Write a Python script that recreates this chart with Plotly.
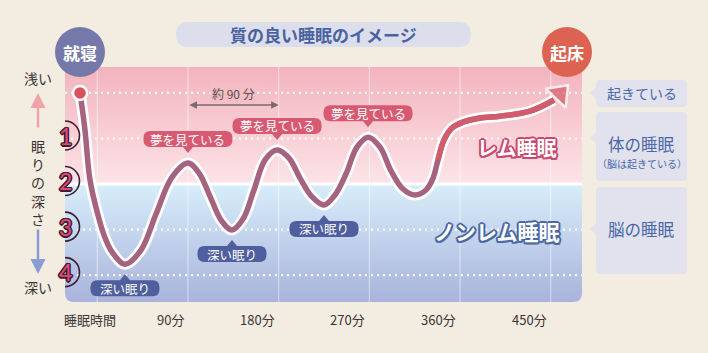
import plotly.graph_objects as go

# ---------------- data ----------------
sleep_t = [-17.1, -12.2, -7.2, 0.7, 6.7, 14.6, 27.5, 43.4, 58.3, 74.2, 90.0,
           101.0, 111.9, 122.8, 133.7, 144.6, 155.5, 166.5, 178.4,
           190.3, 201.2, 213.1, 225.0, 235.9, 246.8, 257.7, 268.7,
           280.6, 291.5, 303.4, 315.3, 326.2, 333.2, 338.1, 344.1, 352.0, 362.9,
           379.8, 399.6, 429.4, 453.2, 467.1]
sleep_depth = [0.00, 0.81, 1.91, 2.68, 3.12, 3.49, 3.76, 3.45, 2.66, 1.85, 1.54,
               1.76, 2.27, 2.79, 3.01, 2.77, 2.13, 1.47, 1.25,
               1.43, 1.87, 2.28, 2.46, 2.24, 1.78, 1.19, 0.97,
               1.19, 1.71, 2.11, 2.24, 2.13, 1.87, 1.47, 1.03, 0.77, 0.64,
               0.55, 0.51, 0.40, 0.155, -0.17]
rem_tail_from = 338.1          # where the rising tail turns red
dream_t = [90.0, 178.4, 268.7]
dream_depth = [1.54, 1.25, 0.97]
deep_t = [27.5, 133.7, 225.0]
deep_depth = [3.76, 3.01, 2.46]
tick_vals = [0, 90, 180, 270, 360, 450]
tick_text = ["睡眠時間", "90分", "180分", "270分", "360分", "450分"]
depth_levels = [1, 2, 3, 4]
depth_text = ["1", "2", "3", "4"]
dotted_levels = [0, 1, 3, 4]
rem_boundary = 2

# ---------------- geometry helpers ----------------
W, H = 708, 353
L, R, T, B = 65, 126, 67, 51
XR = [-32, 481]
YR = [4.59, -0.57]
PW, PH = W - L - R, H - T - B
FONT = "Noto Sans CJK JP"
BG = "#f3ece1"


def pxx(p):
    return (p - L) / PW


def pxy(p):
    return 1 - (p - T) / PH


def rrect(w, h, r, pointer=None, pp=0, cy=0):
    hw, hh = w / 2, h / 2
    top, bot = cy + hh, cy - hh
    s = f"M{-hw + r},{top} "
    if pointer == "up":
        s += f"L-5,{top} L0,{top + 6} L5,{top} "
    s += (f"L{hw - r},{top} Q{hw},{top} {hw},{top - r} L{hw},{bot + r} "
          f"Q{hw},{bot} {hw - r},{bot} ")
    if pointer == "down":
        s += f"L5,{bot} L0,{bot - 6} L-5,{bot} "
    s += f"L{-hw + r},{bot} Q{-hw},{bot} {-hw},{bot + r} "
    if pointer == "left":
        s += f"L{-hw},{pp - 5} L{-hw - 6},{pp} L{-hw},{pp + 5} "
    s += f"L{-hw},{top - r} Q{-hw},{top} {-hw + r},{top} Z"
    return s


def outline(c, d=1.5):
    e = d + 0.5
    return (f"-{d}px -{d}px 0 {c}, {d}px -{d}px 0 {c}, -{d}px {d}px 0 {c}, {d}px {d}px 0 {c}, "
            f"0 {e}px 0 {c}, 0 -{e}px 0 {c}, {e}px 0 0 {c}, -{e}px 0 0 {c}")


fig = go.Figure()

# background bands with gradients
fig.add_trace(go.Scatter(
    x=[XR[0], XR[1], XR[1], XR[0], XR[0]], y=[YR[1], YR[1], rem_boundary, rem_boundary, YR[1]],
    mode="lines", fill="toself", line=dict(width=0), hoverinfo="skip",
    fillgradient=dict(type="vertical", colorscale=[[0, "#f3b3bd"], [1, "#fce4e8"]],
                      start=YR[1], stop=rem_boundary)))
fig.add_trace(go.Scatter(
    x=[XR[0], XR[1], XR[1], XR[0], XR[0]], y=[rem_boundary, rem_boundary, YR[0], YR[0], rem_boundary],
    mode="lines", fill="toself", line=dict(width=0), hoverinfo="skip",
    fillgradient=dict(type="vertical", colorscale=[[0, "#d8eefa"], [1, "#a9b3dc"]],
                      start=rem_boundary, stop=YR[0])))

# vertical grid lines
gx, gy = [], []
for t in tick_vals:
    gx += [t, t, None]
    gy += [YR[1], YR[0], None]
fig.add_trace(go.Scatter(x=gx, y=gy, mode="lines", hoverinfo="skip",
                         line=dict(color="rgba(255,255,255,0.55)", width=1)))

# boundary line
fig.add_trace(go.Scatter(x=XR, y=[rem_boundary, rem_boundary], mode="lines", hoverinfo="skip",
                         line=dict(color="white", width=3)))

# dotted level lines
for lev in dotted_levels:
    fig.add_trace(go.Scatter(x=XR, y=[lev, lev], mode="lines", hoverinfo="skip",
                             line=dict(color="white", width=2.2, dash="2px,4px")))

# sleep curve
body_t, body_d = sleep_t[:-1], sleep_depth[:-1]
k = sleep_t.index(rem_tail_from)
fig.add_trace(go.Scatter(x=body_t, y=body_d, mode="lines", hoverinfo="skip",
                         line=dict(color="white", width=11, shape="spline", smoothing=1)))
fig.add_trace(go.Scatter(x=body_t, y=body_d, mode="lines", hoverinfo="skip",
                         line=dict(color="#a5637f", width=5.5, shape="spline", smoothing=1)))
fig.add_trace(go.Scatter(x=body_t[k:], y=body_d[k:], mode="lines", hoverinfo="skip",
                         line=dict(color="#d25b6c", width=5.5, shape="spline", smoothing=1)))
# arrow head
fig.add_trace(go.Scatter(x=sleep_t[-2:], y=sleep_depth[-2:], mode="markers", hoverinfo="skip",
                         cliponaxis=False,
                         marker=dict(symbol="triangle-up", angleref="previous", size=[0, 24],
                                     standoff=[0, 12], color="#d65a68",
                                     line=dict(color="white", width=2.5))))
# start dot
fig.add_trace(go.Scatter(x=[sleep_t[0]], y=[sleep_depth[0]], mode="markers", hoverinfo="skip",
                         cliponaxis=False,
                         marker=dict(size=14, color="#d9515c", line=dict(color="white", width=2.5))))

shapes = []
ann = []


def add_ann(**kw):
    kw.setdefault("showarrow", False)
    kw.setdefault("xanchor", "center")
    kw.setdefault("yanchor", "middle")
    ann.append(kw)


# rounded bottom corners of the plot panel
for xa, sx in [(0, 1), (1, -1)]:
    r = 9
    shapes.append(dict(type="path", xref="paper", yref="paper", xsizemode="pixel",
                       ysizemode="pixel", xanchor=xa, yanchor=0,
                       path=f"M0,0 L{sx * r},0 Q0,0 0,{r} Z",
                       fillcolor=BG, line=dict(width=0), layer="above"))

# dream bubbles
for t, d in zip(dream_t, dream_depth):
    shapes.append(dict(type="path", xref="x", yref="y", xsizemode="pixel", ysizemode="pixel",
                       xanchor=t, yanchor=d, path=rrect(89, 16, 7, "down", cy=24),
                       fillcolor="#d85a72", line=dict(width=0), layer="above"))
    add_ann(x=t, y=d, xref="x", yref="y", text="夢を見ている", yshift=24,
            font=dict(family=FONT, size=12.5, color="white"))
for t, d in zip(deep_t, deep_depth):
    shapes.append(dict(type="path", xref="x", yref="y", xsizemode="pixel", ysizemode="pixel",
                       xanchor=t, yanchor=d, path=rrect(69, 16, 7, "up", cy=-24),
                       fillcolor="#4f5e9c", line=dict(width=0), layer="above"))
    add_ann(x=t, y=d, xref="x", yref="y", text="深い眠り", yshift=-24,
            font=dict(family=FONT, size=12.5, color="white"))

# depth circles and digits
for lev, txt in zip(depth_levels, depth_text):
    shapes.append(dict(type="circle", xref="x", yref="y", xsizemode="pixel", ysizemode="pixel",
                       xanchor=XR[0], yanchor=lev, x0=-14.5, x1=14.5, y0=-11.5, y1=17.5,
                       line=dict(color="#3b2030", width=1.6), fillcolor="rgba(0,0,0,0)",
                       layer="above"))
    add_ann(x=XR[0], y=lev, xref="x", yref="y", text=txt, yshift=3,
            font=dict(family="Lato", size=23, color="#e4487a", shadow=outline("#3b2030", 1)))

# title pill
shapes.append(dict(type="path", xref="paper", yref="paper", xsizemode="pixel", ysizemode="pixel",
                   xanchor=pxx(323.5), yanchor=pxy(34.5), path=rrect(295, 25, 12.5),
                   fillcolor="#dcdfeb", line=dict(width=0)))
add_ann(x=pxx(323.5), y=pxy(34.5), xref="paper", yref="paper", text="質の良い睡眠のイメージ",
        font=dict(family=FONT, size=17, color="#4a62a0", weight="bold"))

# bedtime / wake circles
for cx, col, txt in [(80, "#7479a9", "就寝"), (567, "#dc6352", "起床")]:
    shapes.append(dict(type="circle", xref="paper", yref="paper", xsizemode="pixel",
                       ysizemode="pixel", xanchor=pxx(cx), yanchor=pxy(52),
                       x0=-25, x1=25, y0=-25, y1=25, fillcolor=col, line=dict(width=0)))
    add_ann(x=pxx(cx), y=pxy(52), xref="paper", yref="paper", text=txt,
            font=dict(family=FONT, size=17, color="white", weight="bold"))

# right call-out boxes
boxes = [(93.5, 27, 0.5), (146.5, 69, 8.5), (230.5, 87, 1.5)]
for cy, h, pp in boxes:
    shapes.append(dict(type="path", xref="paper", yref="paper", xsizemode="pixel",
                       ysizemode="pixel", xanchor=pxx(641.5), yanchor=pxy(cy),
                       path=rrect(91, h, 4, "left", pp), fillcolor="#e1e2ee", line=dict(width=0)))
callout_col = "#4a68a8"
for y, txt, sz in [(93, "起きている", 14), (144, "体の睡眠", 16.5), (163, "（脳は起きている）", 10),
                   (229, "脳の睡眠", 16.5)]:
    add_ann(x=pxx(641.5), y=pxy(y), xref="paper", yref="paper", text=txt,
            font=dict(family=FONT, size=sz, color=callout_col))

# REM / non-REM labels
add_ann(x=pxx(517), y=pxy(147), xref="paper", yref="paper", text="レム睡眠",
        font=dict(family=FONT, size=20, color="white", weight="bold",
                  shadow=outline("#c94a6e", 1.5)))
add_ann(x=pxx(497), y=pxy(231), xref="paper", yref="paper", text="ノンレム睡眠",
        font=dict(family=FONT, size=21, color="white", weight="bold",
                  shadow=outline("#4b68a3", 1.5)))

# about 90 minutes
add_ann(x=(tick_vals[1] + tick_vals[2]) / 2, y=0, xref="x", yref="y",
        text="約 90 分", bgcolor="#f5bec6", yshift=-1,
        font=dict(family=FONT, size=12, color="#5a4c50"))
ann.append(dict(x=tick_vals[2], y=0.264, ax=tick_vals[1], ay=0.264, xref="x", yref="y",
                axref="x", ayref="y", text="", showarrow=True, arrowside="end+start",
                arrowhead=2, arrowsize=1, arrowwidth=1.5, arrowcolor="#7a6870"))

# x tick labels
for i, (v, txt) in enumerate(zip(tick_vals, tick_text)):
    add_ann(x=v, y=0, xref="x", yref="paper", yanchor="top",
            xanchor="center" if i == 0 else "right", xshift=-7 if i == 0 else -2,
            yshift=-6, text=txt, font=dict(family=FONT, size=13, color="#3c3434"))

# left depth axis labels
for y, txt in [(78, "浅い"), (287, "深い"), (182.5, "眠<br>り<br>の<br>深<br>さ")]:
    add_ann(x=pxx(37.5), y=pxy(y), xref="paper", yref="paper", text=txt,
            font=dict(family=FONT, size=14, color="#3c3434"))
ann.append(dict(x=pxx(38), y=pxy(93), xref="paper", yref="paper", ax=0, ay=36, text="",
                showarrow=True, arrowhead=2, arrowsize=1.2, arrowwidth=2.5, arrowcolor="#f2a3aa"))
ann.append(dict(x=pxx(38), y=pxy(274), xref="paper", yref="paper", ax=0, ay=-46, text="",
                showarrow=True, arrowhead=2, arrowsize=1.2, arrowwidth=2.5, arrowcolor="#8b9bd5"))

fig.update_layout(
    width=W, height=H, margin=dict(l=L, r=R, t=T, b=B),
    paper_bgcolor=BG, plot_bgcolor="rgba(0,0,0,0)",
    showlegend=False, shapes=shapes, annotations=ann,
    xaxis=dict(range=XR, showgrid=False, zeroline=False, showticklabels=False, fixedrange=True),
    yaxis=dict(range=YR, showgrid=False, zeroline=False, showticklabels=False, fixedrange=True),
    font=dict(family=FONT),
)

fig.write_html("out.html")
